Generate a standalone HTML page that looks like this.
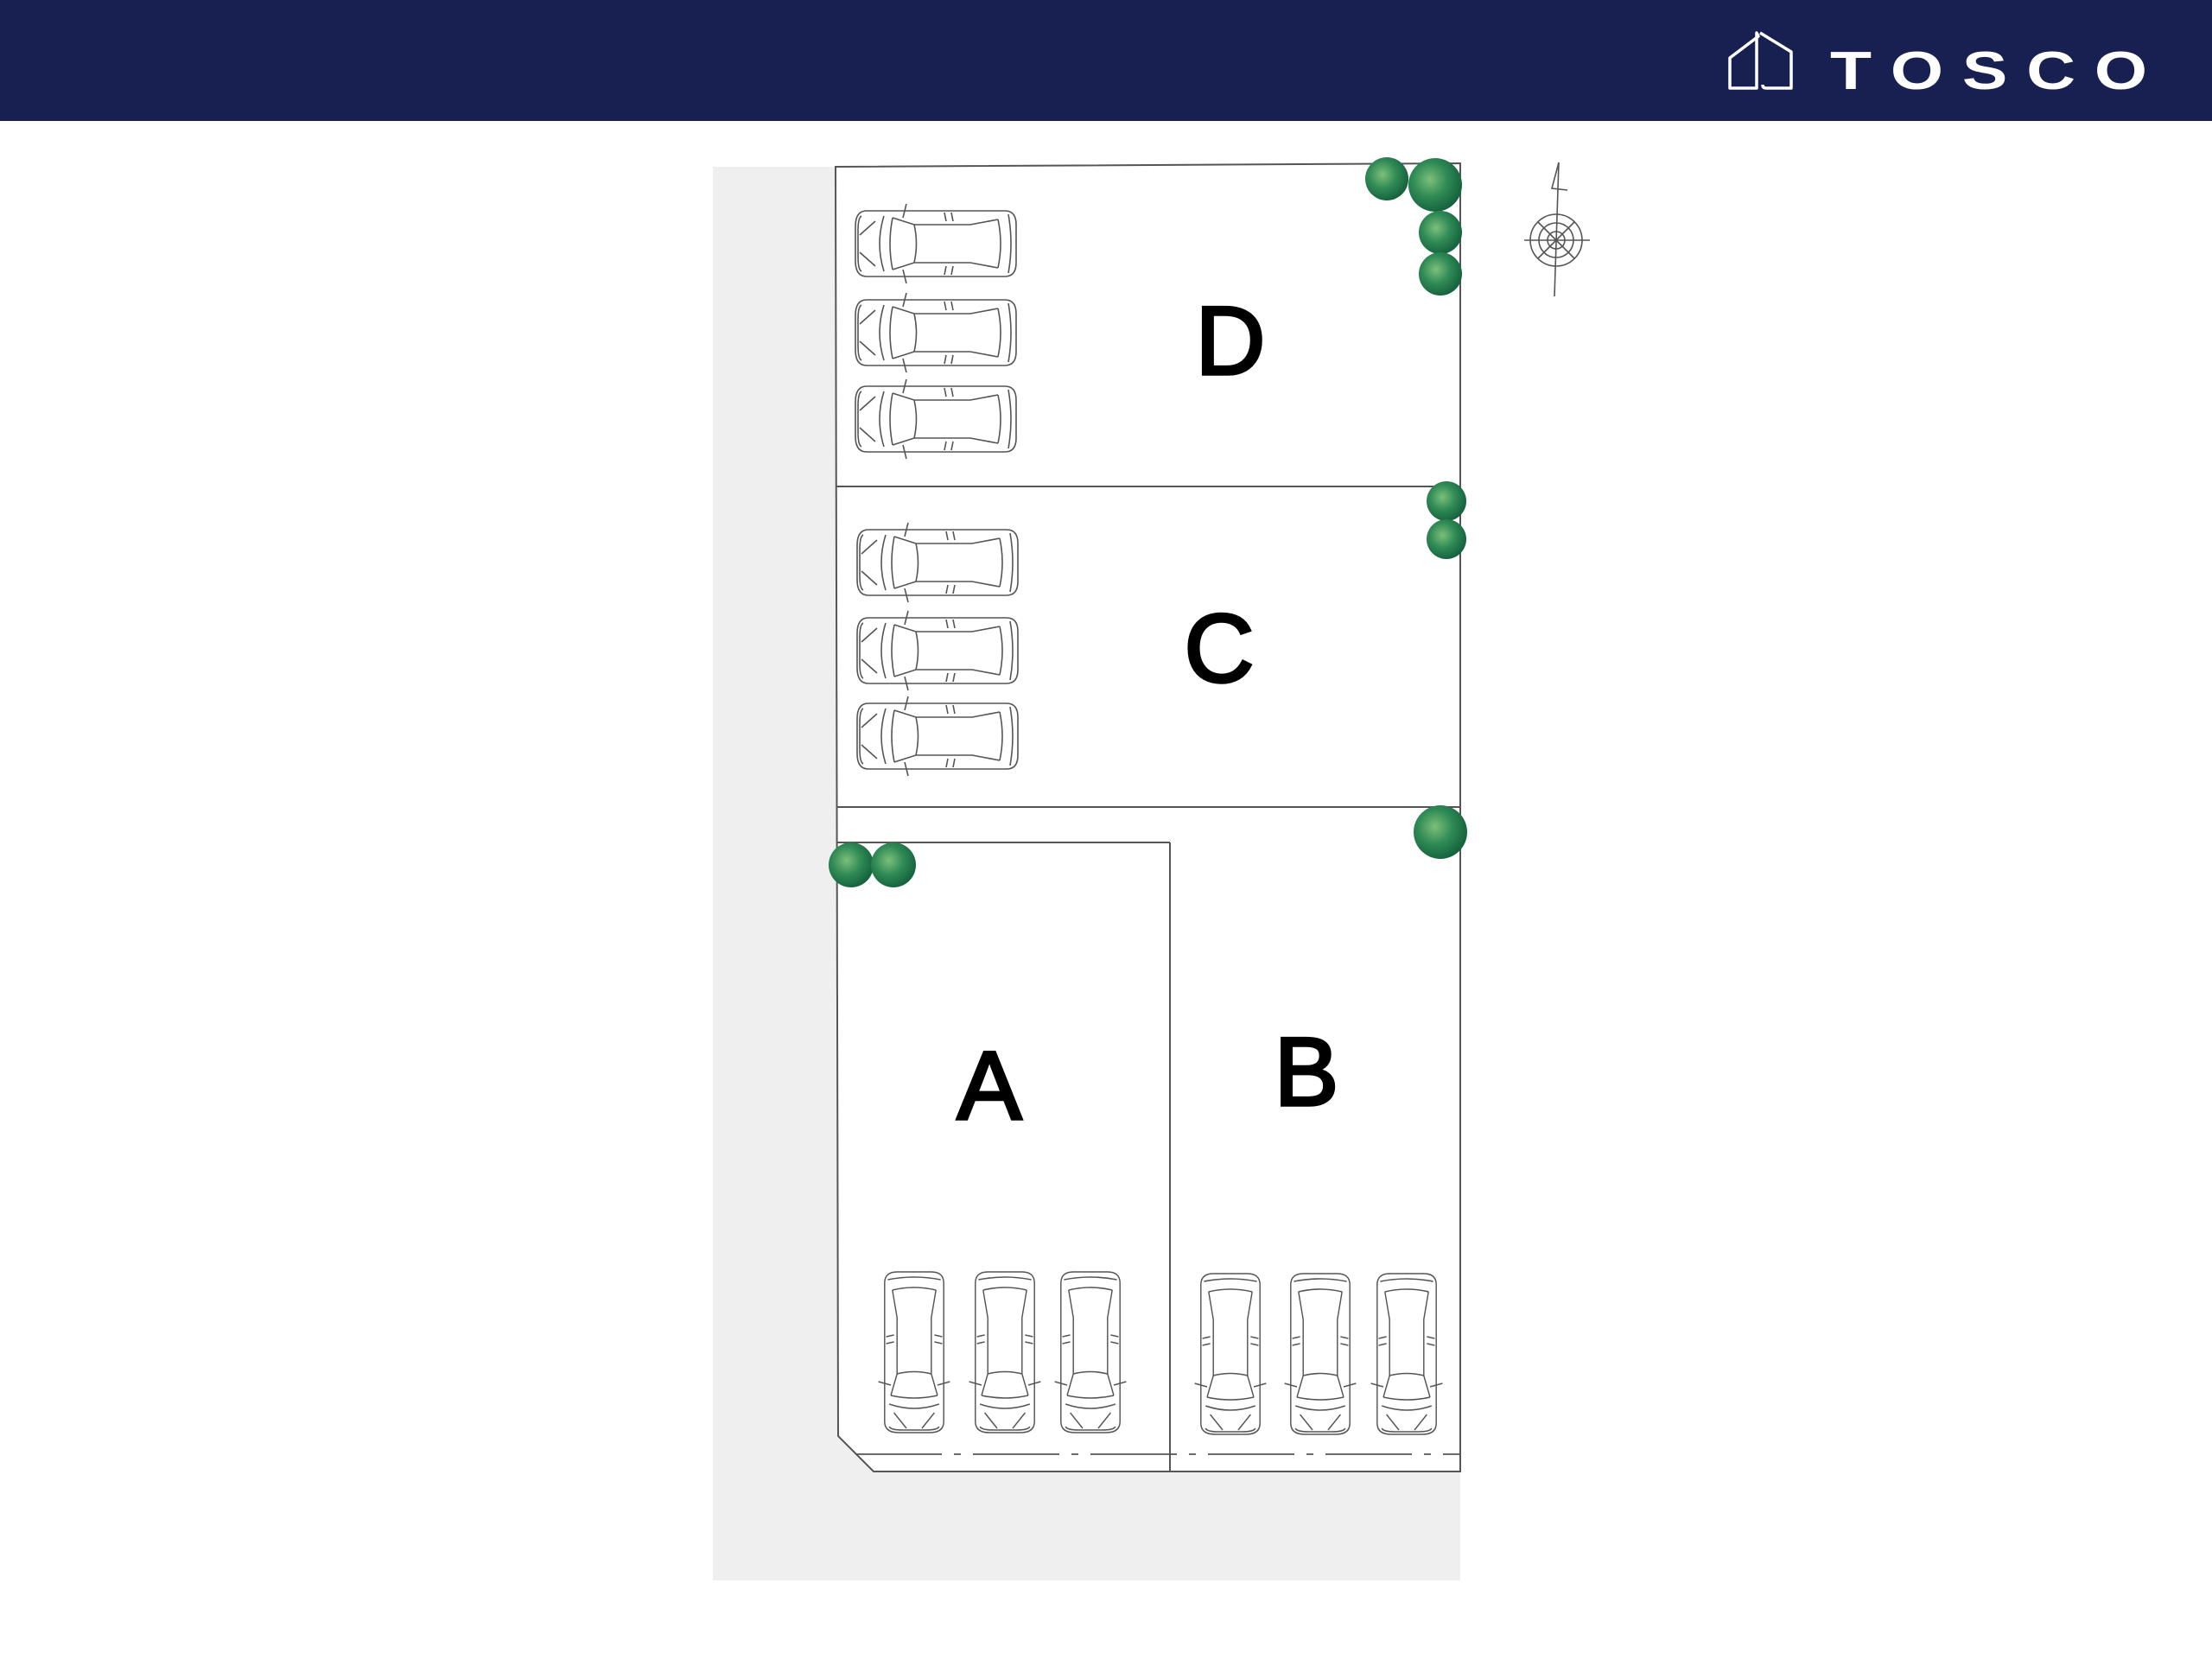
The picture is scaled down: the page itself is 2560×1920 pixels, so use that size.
<!DOCTYPE html>
<html><head><meta charset="utf-8"><style>
html,body{margin:0;padding:0;background:#fff;}
svg{display:block;}
</style></head><body>
<svg width="2560" height="1920" viewBox="0 0 2560 1920" xmlns="http://www.w3.org/2000/svg">
<defs>
<g id="car" fill="none" stroke="#555" stroke-width="1.6">
  <path d="M-80,-38 Q-93,-38 -93,-20 L-93,20 Q-93,38 -80,38 L80,38 Q93,38 93,22 L93,-22 Q93,-38 80,-38 Z"/>
  <path d="M-86,-32 Q-90,-30 -90,-15 L-90,15 Q-90,30 -86,32"/>
  <path d="M-60,-32 Q-70,0 -60,32"/>
  <path d="M-50,-30 Q-56,0 -50,30"/>
  <path d="M-50,-30 L-25,-22 L40,-22 L72,-28"/>
  <path d="M-50,30 L-25,22 L40,22 L72,28"/>
  <path d="M-25,-22 Q-20,0 -25,22"/>
  <path d="M72,-28 Q78,0 72,28"/>
  <path d="M84,-34 Q90,0 84,34"/>
  <path d="M-38,-30 L-34,-46 M-38,30 L-34,46"/>
  <path d="M10,-36 L12,-26 M18,-36 L20,-26 M10,36 L12,26 M18,36 L20,26"/>
  <path d="M-88,-10 L-70,-26 M-88,10 L-70,26"/>
</g>
<radialGradient id="tree" cx="40%" cy="40%" r="65%">
  <stop offset="0" stop-color="#7cbf7a"/>
  <stop offset="0.5" stop-color="#2f8a55"/>
  <stop offset="1" stop-color="#135e3b"/>
</radialGradient>
</defs>

<rect x="0" y="0" width="2560" height="140" fill="#172050"/>
<g fill="none" stroke="#fff" stroke-width="3.5" stroke-linejoin="round">
  <path d="M2035,42 L2002,67 L2002,102 L2033,102 L2033,38 Z"/>
  <path d="M2037,38 L2073,60 L2073,102 L2044,102 Q2040,102 2040,98"/>
</g>
<text x="2118" y="103" font-family="Liberation Sans, sans-serif" font-weight="bold" font-size="62" fill="#fff" textLength="367" lengthAdjust="spacingAndGlyphs">T O S C O</text>

<rect x="825" y="193" width="865" height="1636" fill="#efefef"/>

<path d="M967,193 L1690,189 L1690,1703 L1011,1703 L970,1662 Z" fill="#fff" stroke="#555" stroke-width="2"/>
<g stroke="#555" stroke-width="2" fill="none">
  <line x1="967" y1="563" x2="1690" y2="563"/>
  <line x1="968" y1="934" x2="1690" y2="934"/>
  <line x1="969" y1="975" x2="1354" y2="975"/>
  <line x1="1354" y1="975" x2="1354" y2="1703"/>
  <line x1="990" y1="1683" x2="1690" y2="1683" stroke-dasharray="100,14,8,14" stroke-width="1.8"/>
</g>

<use href="#car" transform="translate(1083,282)"/>
<use href="#car" transform="translate(1083,385)"/>
<use href="#car" transform="translate(1083,485)"/>
<use href="#car" transform="translate(1085,651)"/>
<use href="#car" transform="translate(1085,753)"/>
<use href="#car" transform="translate(1085,852)"/>
<use href="#car" transform="translate(1058,1565) rotate(-90) scale(1,0.9)"/>
<use href="#car" transform="translate(1163,1565) rotate(-90) scale(1,0.9)"/>
<use href="#car" transform="translate(1262,1565) rotate(-90) scale(1,0.9)"/>
<use href="#car" transform="translate(1424,1567) rotate(-90) scale(1,0.9)"/>
<use href="#car" transform="translate(1528,1567) rotate(-90) scale(1,0.9)"/>
<use href="#car" transform="translate(1628,1567) rotate(-90) scale(1,0.9)"/>

<g font-family="Liberation Sans, DejaVu Sans, sans-serif" font-size="112" fill="#000" stroke="#000" stroke-width="3.5" text-anchor="middle">
  <text x="1424" y="433">D</text>
  <text x="1411" y="789">C</text>
  <text x="1145" y="1295">A</text>
  <text x="1512" y="1279">B</text>
</g>

<g fill="url(#tree)">
  <circle cx="1605" cy="207" r="25"/>
  <circle cx="1661" cy="214" r="31"/>
  <circle cx="1667" cy="269" r="25"/>
  <circle cx="1667" cy="317" r="25"/>
  <circle cx="1674" cy="580" r="23"/>
  <circle cx="1674" cy="624" r="23"/>
  <circle cx="1667" cy="963" r="31"/>
  <circle cx="985" cy="1001" r="26"/>
  <circle cx="1034" cy="1001" r="26"/>
</g>

<g fill="none" stroke="#555" stroke-width="1.6">
  <line x1="1804" y1="188" x2="1799" y2="343"/>
  <path d="M1804,188 L1796,218 L1814,220"/>
  <circle cx="1801" cy="278" r="30"/>
  <circle cx="1801" cy="278" r="20"/>
  <circle cx="1801" cy="278" r="10"/>
  <line x1="1764" y1="278" x2="1840" y2="278"/>
  <line x1="1780" y1="257" x2="1822" y2="299"/>
  <line x1="1822" y1="257" x2="1780" y2="299"/>
</g>
</svg>
</body></html>
